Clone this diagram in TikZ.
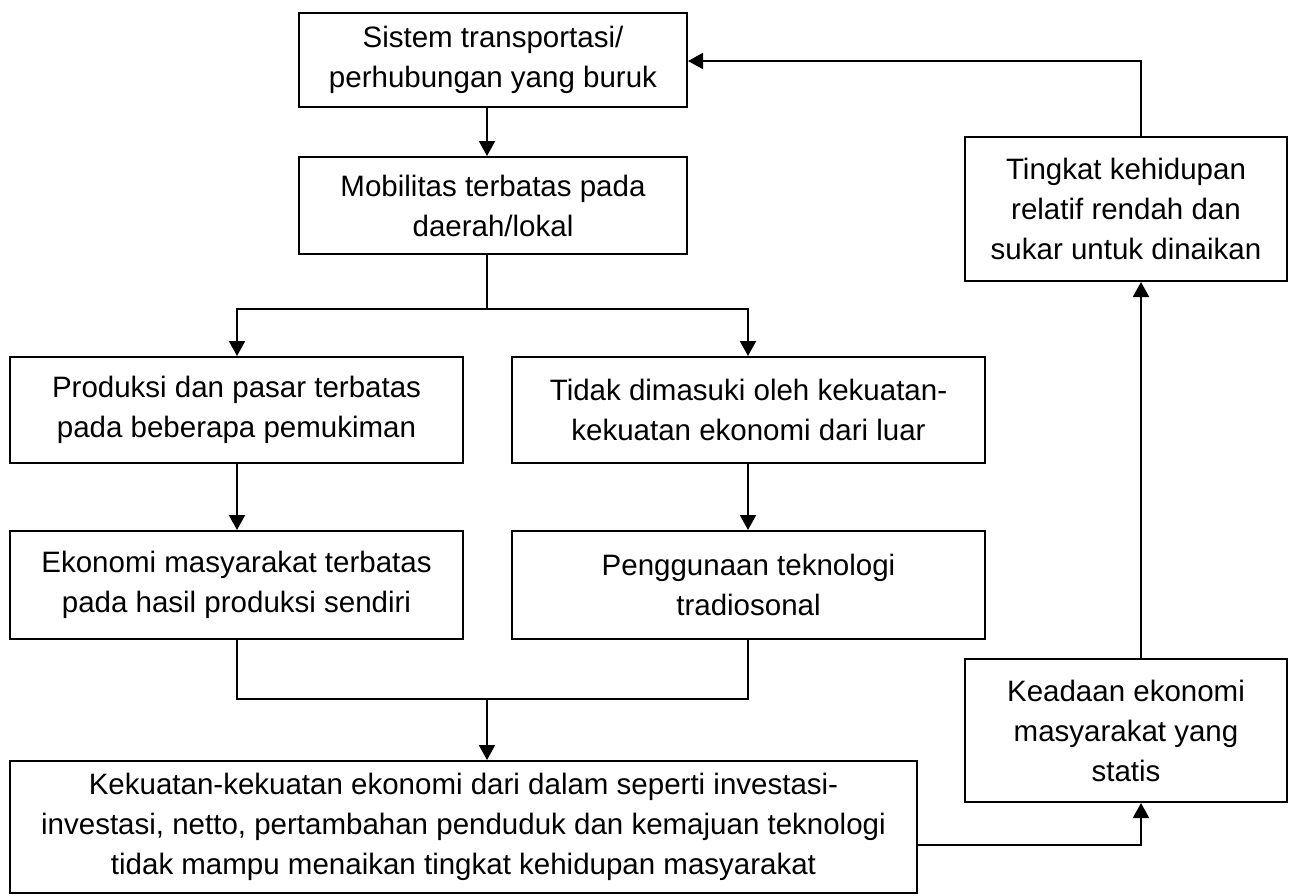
\documentclass[tikz,border=0pt]{standalone}
\usepackage{fontspec}
\setmainfont{Liberation Sans}
\usetikzlibrary{arrows.meta}
\begin{document}
\begin{tikzpicture}[x=1pt,y=-1pt,
  box/.style={draw=black,line width=2pt,inner sep=0pt,align=center,
    font=\fontsize{29.5}{40}\selectfont,fill=white},
  conn/.style={line width=2pt},
  arr/.style={line width=2pt,-{Triangle[length=15pt,width=16pt]}}]
\useasboundingbox (0,0) rectangle (1295,895);
\fill[white] (0,0) rectangle (1295,895);
\node[box,minimum width=388pt,minimum height=94pt] (b1) at (493,60) {Sistem transportasi/\\perhubungan yang buruk};
\node[box,minimum width=388pt,minimum height=97pt] (b2) at (493,205.5) {Mobilitas terbatas pada\\daerah/lokal};
\node[box,minimum width=453pt,minimum height=106pt] (b3) at (236.5,410) {Produksi dan pasar terbatas\\pada beberapa pemukiman};
\node[box,minimum width=473pt,minimum height=106pt] (b4) at (748.5,410) {Tidak dimasuki oleh kekuatan-\\kekuatan ekonomi dari luar};
\node[box,minimum width=453pt,minimum height=108pt] (b5) at (236.5,585) {Ekonomi masyarakat terbatas\\pada hasil produksi sendiri};
\node[box,minimum width=473pt,minimum height=108pt] (b6) at (748.5,585) {Penggunaan teknologi\\tradiosonal};
\node[box,minimum width=907pt,minimum height=132pt] (b7) at (463.5,827) {Kekuatan-kekuatan ekonomi dari dalam seperti investasi-\\investasi, netto, pertambahan penduduk dan kemajuan teknologi\\tidak mampu menaikan tingkat kehidupan masyarakat};
\node[box,minimum width=322pt,minimum height=143pt] (b8) at (1126,730.5) {Keadaan ekonomi\\masyarakat yang\\statis};
\node[box,minimum width=322pt,minimum height=144pt] (b9) at (1126,209) {Tingkat kehidupan\\relatif rendah dan\\sukar untuk dinaikan};
% connectors
\coordinate (s1) at (487,309);
\coordinate (j1) at (487,699);
\draw[arr] (b1.south -| 487,0) -- (b2.north -| 487,0);
\draw[conn] (b2.south -| 487,0) -- (s1);
\draw[arr] (s1) -| (b3.north -| 237,0);
\draw[arr] (s1) -| (b4.north -| 748,0);
\draw[arr] (b3.south -| 237,0) -- (b5.north -| 237,0);
\draw[arr] (b4.south -| 748,0) -- (b6.north -| 748,0);
\draw[conn] (b5.south -| 237,0) |- (j1) -| (b6.south -| 748,0);
\draw[arr] (j1) -- (b7.north -| 487,0);
\draw[arr] (b7.east |- 0,845) -| (b8.south -| 1141,0);
\draw[arr] (b8.north -| 1141,0) -- (b9.south -| 1141,0);
\draw[arr] (b9.north -| 1141,0) |- (b1.east |- 0,61);
\end{tikzpicture}
\end{document}
